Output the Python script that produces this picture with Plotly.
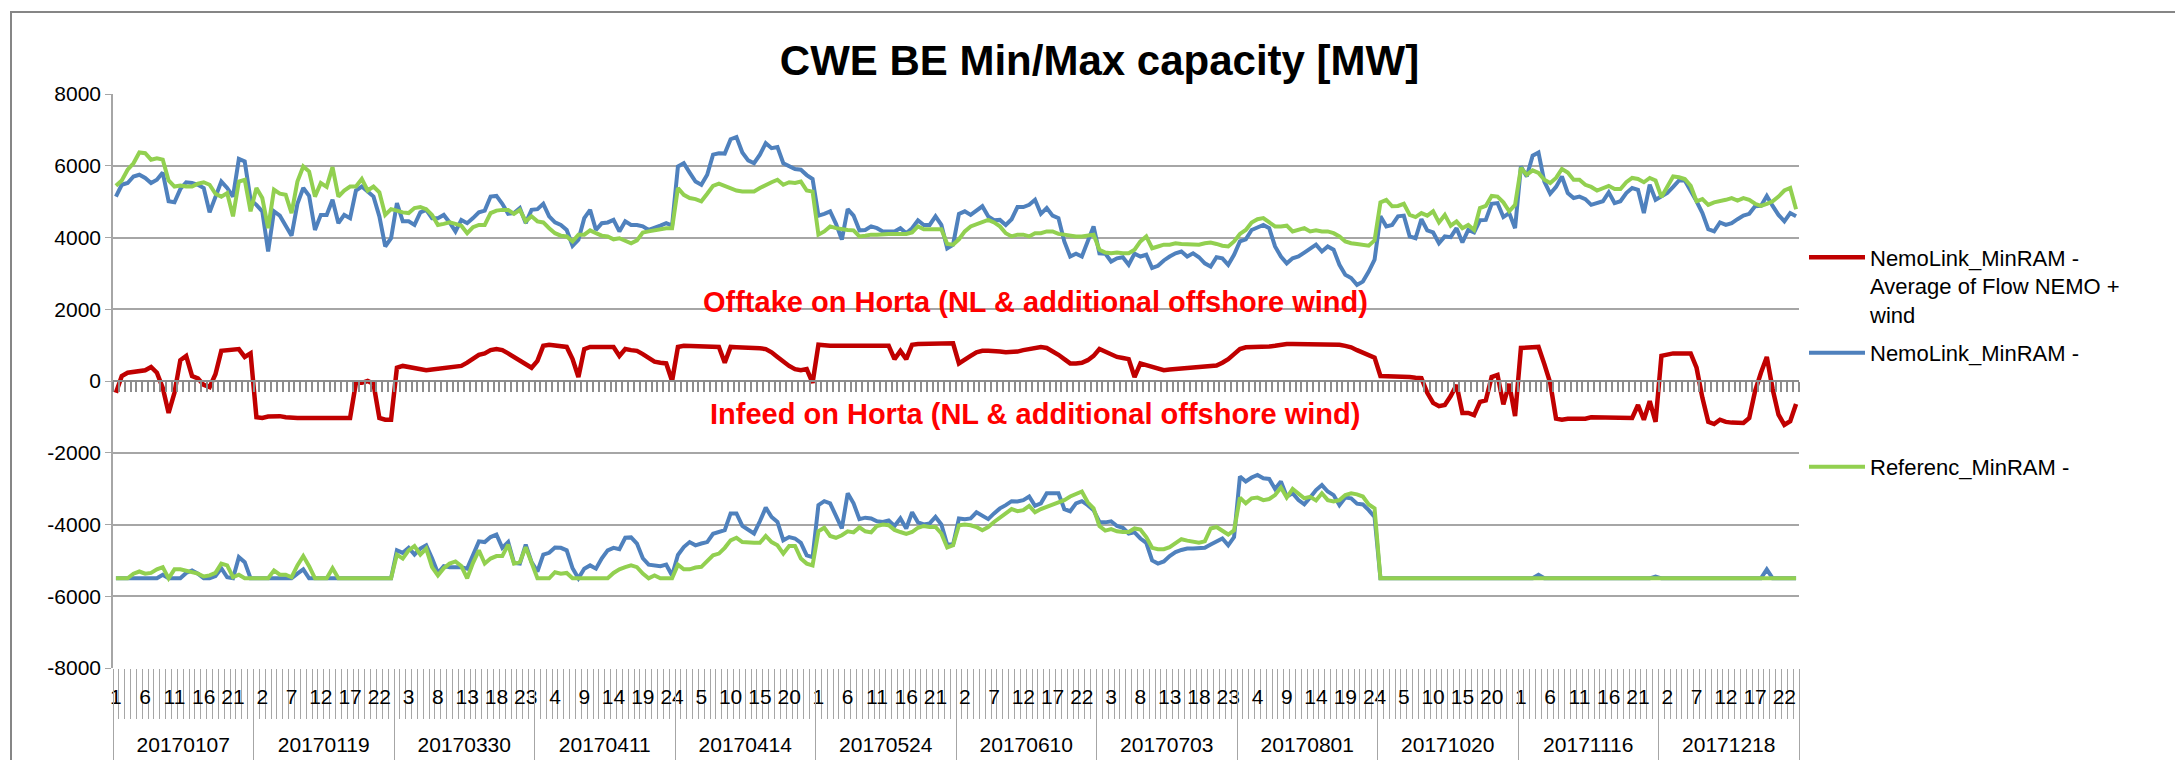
import plotly.graph_objects as go

# ---------------- data ----------------
DATES = ["20170107", "20170119", "20170330", "20170411", "20170414", "20170524",
         "20170610", "20170703", "20170801", "20171020", "20171116", "20171218"]
HOURS = [1, 2, 3, 4, 5, 6, 7, 8, 9, 10, 11, 12, 13, 14, 15, 16, 17, 18, 19, 20, 21, 22, 23, 24]

Y_TICKS = [8000, 6000, 4000, 2000, 0, -2000, -4000, -6000, -8000]

BLUE_MAX = [
    5140, 5470, 5520, 5700, 5750, 5660, 5520, 5610, 5810, 5010, 4980, 5350, 5540, 5520, 5470, 5380, 4700, 5100, 5560, 5380, 5140, 6190, 6120, 5050,
    4910, 4730, 3610, 4730, 4610, 4330, 4050, 4940, 5380, 5160, 4210, 4630, 4630, 5050, 4400, 4630, 4540, 5310, 5420, 5280, 5140, 4590, 3750, 3980,
    4960, 4450, 4450, 4350, 4700, 4770, 4540, 4540, 4630, 4420, 4170, 4490, 4400, 4540, 4700, 4750, 5140, 5160, 4940, 4660, 4680, 4820, 4400, 4770,
    4790, 4940, 4590, 4420, 4350, 4210, 3770, 3940, 4540, 4770, 4210, 4400, 4420, 4490, 4170, 4450, 4350, 4350, 4310, 4210, 4260, 4330, 4400, 4330,
    5980, 6070, 5810, 5560, 5470, 5750, 6310, 6350, 6340, 6740, 6800, 6370, 6150, 6070, 6310, 6630, 6490, 6520, 6070, 6000, 5910, 5890, 5740, 5630,
    4610, 4660, 4730, 4380, 3940, 4790, 4610, 4200, 4210, 4310, 4260, 4170, 4170, 4170, 4260, 4120, 4260, 4480, 4350, 4350, 4590, 4350, 3700, 3800,
    4660, 4730, 4630, 4750, 4870, 4590, 4480, 4490, 4350, 4510, 4850, 4850, 4910, 5050, 4660, 4820, 4610, 4540, 3890, 3470, 3550, 3470, 3890, 4310,
    3560, 3550, 3330, 3420, 3450, 3240, 3550, 3470, 3520, 3150, 3210, 3360, 3470, 3560, 3610, 3470, 3560, 3450, 3280, 3190, 3450, 3420, 3240, 3520,
    3890, 3950, 4210, 4280, 4350, 4260, 3750, 3470, 3280, 3420, 3470, 3580, 3700, 3800, 3610, 3750, 3660, 3240, 2960, 2870, 2680, 2770, 3050, 3380,
    4590, 4310, 4350, 4590, 4610, 4030, 3980, 4510, 4200, 4140, 3840, 4030, 4010, 4260, 3860, 4210, 4140, 4480, 4490, 4940, 4960, 4570, 4680, 4260,
    5980, 5700, 6280, 6370, 5560, 5220, 5410, 5700, 5240, 5100, 5140, 5070, 4910, 4960, 5010, 5260, 4960, 5010, 5240, 5380, 5330, 4680, 5470, 5050,
    5160, 5240, 5410, 5590, 5590, 5310, 5010, 4680, 4230, 4170, 4420, 4350, 4400, 4510, 4610, 4660, 4870, 4880, 5160, 4880, 4630, 4450, 4680, 4590,
]

GREEN_MAX = [
    5440, 5590, 5890, 6070, 6370, 6350, 6170, 6210, 6170, 5590, 5420, 5450, 5420, 5420, 5500, 5540, 5470, 5220, 5140, 5240, 4590, 5560, 5610, 4730,
    5380, 5100, 4260, 5330, 5220, 5190, 4680, 5560, 5980, 5840, 5140, 5520, 5410, 5960, 5140, 5310, 5420, 5420, 5630, 5310, 5420, 5260, 4630, 4790,
    4750, 4700, 4680, 4820, 4850, 4790, 4630, 4350, 4380, 4420, 4380, 4330, 4120, 4290, 4350, 4350, 4680, 4750, 4770, 4770, 4660, 4770, 4450, 4590,
    4450, 4420, 4260, 4120, 4050, 4030, 3890, 4080, 4080, 4200, 4120, 4050, 4030, 3950, 3980, 3920, 3840, 3920, 4140, 4170, 4200, 4210, 4260, 4260,
    5380, 5190, 5100, 5070, 5010, 5220, 5440, 5500, 5440, 5380, 5310, 5280, 5280, 5280, 5380, 5470, 5540, 5610, 5470, 5540, 5520, 5560, 5310, 5280,
    4080, 4170, 4310, 4260, 4230, 4210, 4200, 4030, 4050, 4080, 4080, 4100, 4100, 4100, 4100, 4100, 4140, 4310, 4230, 4230, 4230, 4230, 3820, 3800,
    3950, 4170, 4310, 4380, 4420, 4490, 4420, 4310, 4120, 4030, 4080, 4080, 4030, 4120, 4120, 4170, 4170, 4100, 4080, 4050, 4030, 4030, 4050, 4080,
    3660, 3580, 3560, 3580, 3560, 3560, 3660, 3890, 4030, 3700, 3750, 3800, 3800, 3840, 3820, 3820, 3800, 3800, 3840, 3860, 3820, 3770, 3750, 3890,
    4100, 4210, 4420, 4510, 4540, 4420, 4310, 4310, 4330, 4170, 4210, 4260, 4170, 4200, 4170, 4170, 4120, 4030, 3890, 3840, 3820, 3800, 3770, 3920,
    4980, 5050, 4870, 4880, 4940, 4630, 4570, 4680, 4610, 4730, 4420, 4630, 4330, 4450, 4260, 4350, 4210, 4820, 4880, 5160, 5140, 4980, 4730, 4910,
    5940, 5750, 5870, 5800, 5610, 5520, 5660, 5910, 5810, 5610, 5610, 5470, 5410, 5310, 5380, 5440, 5350, 5350, 5540, 5660, 5630, 5540, 5660, 5590,
    5130, 5420, 5700, 5680, 5630, 5440, 5010, 5070, 4910, 4980, 5010, 5050, 5100, 5030, 5100, 5050, 4940, 4880, 4940, 5010, 5140, 5310, 5380, 4790,
]

RED_FLOW = [
    -330, 140, 230, 260, 260, 300, 390, 230, -190, -890, -330, 580, 700, 140, 70, -110, -170, 190, 840, 860, 890, 890, 670, 770,
    -1010, -1030, -990, -980, -980, -1010, -1030, -1030, -1030, -1030, -1030, -1030, -1030, -1030, -1030, -1030, -1030, -50, -50, 0, -80, -1030, -1080, -1080,
    370, 420, 390, 340, 300, 300, 320, 340, 360, 370, 390, 420, 510, 610, 730, 770, 860, 890, 860, 770, 670, 560, 470, 370,
    560, 980, 1010, 1000, 980, 950, 610, 110, 890, 950, 950, 950, 950, 950, 700, 890, 860, 840, 750, 650, 540, 510, 490, 0,
    950, 980, 980, 980, 980, 980, 960, 950, 510, 950, 940, 940, 930, 920, 910, 890, 800, 670, 540, 420, 330, 300, 330, -50,
    1010, 980, 980, 980, 980, 980, 980, 980, 980, 980, 980, 1010, 980, 610, 840, 610, 1010, 1030, 1030, 1050, 1050, 1050, 1050, 1050,
    490, 610, 700, 800, 840, 840, 840, 820, 800, 800, 820, 860, 890, 920, 950, 920, 840, 730, 610, 490, 490, 510, 580, 700,
    890, 810, 750, 670, 640, 610, 110, 490, 440, 390, 330, 300, 320, 330, 350, 370, 370, 390, 390, 410, 430, 510, 610, 750,
    890, 940, 940, 940, 950, 960, 980, 1010, 1030, 1030, 1030, 1030, 1030, 1030, 1030, 1030, 1030, 1010, 980, 940, 860, 800, 730, 650,
    140, 140, 110, 110, 110, 110, 90, 80, -330, -610, -700, -670, -420, -110, -890, -890, -950, -580, -540, 110, 170, -650, -80, -980,
    920, 920, 940, 950, 470, -50, -1050, -1080, -1050, -1050, -1050, -1050, -1010, -1010, -1010, -1010, -1010, -1010, -1010, -1030, -670, -1080, -560, -1140,
    700, 750, 770, 770, 770, 770, 370, -470, -1140, -1200, -1080, -1140, -1160, -1170, -1170, -1030, -280, 230, 670, -230, -940, -1220, -1120, -640,
]

BLUE_MIN = [
    -5500, -5500, -5500, -5500, -5500, -5500, -5500, -5500, -5400, -5500, -5500, -5500, -5350, -5280, -5370, -5500, -5500, -5440, -5220, -5470, -5500, -4910, -5050, -5500,
    -5500, -5500, -5500, -5500, -5500, -5500, -5500, -5370, -5250, -5500, -5500, -5500, -5500, -5500, -5500, -5500, -5500, -5500, -5500, -5500, -5500, -5500, -5500, -5500,
    -4720, -4790, -4650, -4840, -4670, -4580, -4940, -5350, -5160, -5190, -5190, -5190, -5230, -4840, -4470, -4490, -4350, -4280, -4650, -4490, -5070, -5090, -4560, -5050,
    -5310, -4840, -4790, -4640, -4650, -4720, -5220, -5500, -5230, -5140, -5230, -4940, -4720, -4650, -4690, -4370, -4360, -4530, -4940, -5120, -5140, -5160, -5120, -5420,
    -4850, -4630, -4490, -4580, -4530, -4490, -4260, -4220, -4160, -3690, -3690, -4040, -4160, -4250, -3910, -3530, -3790, -3930, -4440, -4350, -4390, -4510, -4860, -4910,
    -3460, -3350, -3410, -3740, -4110, -3130, -3410, -3850, -3810, -3830, -3910, -3930, -3890, -4040, -3830, -4110, -3660, -3940, -4000, -3970, -3790, -4000, -4560, -4560,
    -3830, -3850, -3830, -3660, -3740, -3850, -3690, -3550, -3460, -3350, -3360, -3320, -3220, -3480, -3410, -3130, -3130, -3130, -3570, -3630, -3410, -3350, -3460, -3600,
    -3930, -3940, -3910, -4040, -4090, -4250, -4220, -4390, -4510, -5000, -5090, -5030, -4880, -4770, -4710, -4670, -4670, -4670, -4650, -4560, -4470, -4390, -4580, -4350,
    -2660, -2800, -2690, -2620, -2710, -2730, -3010, -2800, -3220, -3130, -3320, -3440, -3250, -3040, -2900, -3080, -3180, -3460, -3250, -3270, -3420, -3440, -3600, -3790,
    -5500, -5500, -5500, -5500, -5500, -5500, -5500, -5500, -5500, -5500, -5500, -5500, -5500, -5500, -5500, -5500, -5500, -5500, -5500, -5500, -5500, -5500, -5500, -5500,
    -5500, -5500, -5500, -5400, -5500, -5500, -5500, -5500, -5500, -5500, -5500, -5500, -5500, -5500, -5500, -5500, -5500, -5500, -5500, -5500, -5500, -5500, -5500, -5450,
    -5500, -5500, -5500, -5500, -5500, -5500, -5500, -5500, -5500, -5500, -5500, -5500, -5500, -5500, -5500, -5500, -5500, -5500, -5250, -5500, -5500, -5500, -5500, -5500,
]

GREEN_MIN = [
    -5500, -5500, -5500, -5370, -5310, -5370, -5350, -5250, -5190, -5500, -5250, -5250, -5290, -5330, -5370, -5450, -5420, -5350, -5090, -5140, -5470, -5400, -5500, -5500,
    -5500, -5500, -5500, -5280, -5400, -5400, -5470, -5140, -4880, -5160, -5500, -5500, -5500, -5220, -5500, -5500, -5500, -5500, -5500, -5500, -5500, -5500, -5500, -5500,
    -4840, -4950, -4720, -4600, -4840, -4670, -5190, -5420, -5220, -5090, -5030, -5160, -5500, -5070, -4720, -5090, -4950, -4880, -4880, -4560, -5090, -5050, -4630, -5090,
    -5500, -5500, -5500, -5330, -5370, -5350, -5500, -5500, -5500, -5500, -5500, -5500, -5500, -5350, -5250, -5190, -5140, -5190, -5370, -5500, -5420, -5500, -5500, -5500,
    -5120, -5250, -5250, -5200, -5180, -5030, -4860, -4810, -4650, -4440, -4370, -4490, -4510, -4510, -4510, -4320, -4490, -4580, -4810, -4600, -4600, -4950, -5090, -5140,
    -4190, -4090, -4320, -4370, -4300, -4190, -4220, -4080, -4190, -4220, -4040, -4000, -4020, -4150, -4210, -4260, -4210, -4090, -4040, -4070, -4070, -4250, -4640, -4580,
    -4020, -4000, -4020, -4070, -4160, -4070, -3930, -3810, -3660, -3570, -3630, -3600, -3480, -3660, -3570, -3510, -3440, -3380, -3320, -3220, -3160, -3080, -3380, -3550,
    -4040, -4170, -4130, -4190, -4210, -4210, -4110, -4140, -4350, -4650, -4690, -4690, -4630, -4530, -4410, -4450, -4490, -4510, -4470, -4110, -4070, -4170, -4280, -4160,
    -3250, -3410, -3270, -3250, -3320, -3290, -3180, -2970, -3250, -3010, -3130, -3270, -3230, -3330, -3130, -3320, -3360, -3320, -3180, -3130, -3160, -3220, -3440, -3550,
    -5500, -5500, -5500, -5500, -5500, -5500, -5500, -5500, -5500, -5500, -5500, -5500, -5500, -5500, -5500, -5500, -5500, -5500, -5500, -5500, -5500, -5500, -5500, -5500,
    -5500, -5500, -5500, -5500, -5500, -5500, -5500, -5500, -5500, -5500, -5500, -5500, -5500, -5500, -5500, -5500, -5500, -5500, -5500, -5500, -5500, -5500, -5500, -5500,
    -5500, -5500, -5500, -5500, -5500, -5500, -5500, -5500, -5500, -5500, -5500, -5500, -5500, -5500, -5500, -5500, -5500, -5500, -5500, -5500, -5500, -5500, -5500, -5500,
]

NAME_RED = "NemoLink_MinRAM -<br>Average of Flow NEMO +<br>wind"
NAME_BLUE = "NemoLink_MinRAM -"
NAME_GREEN = "Referenc_MinRAM -"
TEXT_OFFTAKE = "<b>Offtake on Horta (NL &amp; additional offshore wind)</b>"
TEXT_INFEED = "<b>Infeed on Horta (NL &amp; additional offshore wind)</b>"
TITLE = "<b>CWE BE Min/Max capacity [MW]</b>"

# ---------------- derived axis helpers ----------------
N_H = len(HOURS)
N = len(DATES) * N_H
X = list(range(N))                       # category index along the two-level axis
HOUR_TICKVALS = X[::5]
HOUR_TICKTEXT = [str(HOURS[i % N_H]) for i in HOUR_TICKVALS]
BOUNDARIES = [i - 0.5 for i in X] + [N - 0.5]
DAY_CENTERS = [d * N_H + (N_H - 1) / 2 for d in range(len(DATES))]
XR = [-0.5, N - 0.5]

BLUE = "#4F81BD"
GREEN = "#92D050"
RED = "#C00000"
GRID = "#A6A6A6"
TICKC = "#8C8C8C"
FONT = "Liberation Sans, Arial, sans-serif"

W, H = 2183, 760
ML, MR, MT, MB = 105, 392, 86, 100
PW, PH = W - ML - MR, H - MT - MB


def px(xpix):
    return (xpix - ML) / PW


def py(ypix):
    return (H - MB - ypix) / PH


fig = go.Figure()
fig.add_trace(go.Scatter(x=X, y=BLUE_MAX, mode="lines", name=NAME_BLUE,
                         line=dict(color=BLUE, width=4), legend="legend2", legendgroup="blue"))
fig.add_trace(go.Scatter(x=X, y=BLUE_MIN, mode="lines", name=NAME_BLUE, showlegend=False,
                         line=dict(color=BLUE, width=4), legend="legend2", legendgroup="blue"))
fig.add_trace(go.Scatter(x=X, y=GREEN_MAX, mode="lines", name=NAME_GREEN,
                         line=dict(color=GREEN, width=4), legend="legend3", legendgroup="green"))
# red flow drawn on the axis that crosses at zero (same range as the main axis)
fig.add_trace(go.Scatter(x=X, y=RED_FLOW, mode="lines", name=NAME_RED, xaxis="x2",
                         line=dict(color=RED, width=4.5), legend="legend", legendgroup="red"))
# green min drawn on the date-level axis (same range as the main axis)
fig.add_trace(go.Scatter(x=X, y=GREEN_MIN, mode="lines", name=NAME_GREEN, showlegend=False, xaxis="x3",
                         line=dict(color=GREEN, width=4), legend="legend3", legendgroup="green"))

legend_common = dict(x=px(1796), xanchor="left", yanchor="middle", valign="top",
                     itemwidth=56,
                     font=dict(family=FONT, size=22, color="#000000"),
                     bgcolor="rgba(0,0,0,0)", borderwidth=0)

fig.update_layout(
    width=W, height=H,
    showlegend=True,
    margin=dict(l=ML, r=MR, t=MT, b=MB),
    paper_bgcolor="white", plot_bgcolor="white",
    font=dict(family=FONT, size=21, color="#000000"),
    title=dict(text=TITLE, x=0.5, xref="container", xanchor="center",
               y=1 - 52 / H, yref="container", yanchor="middle",
               font=dict(family=FONT, size=42, color="#000000")),
    xaxis=dict(range=XR, showgrid=False, zeroline=False, showline=False,
               tickmode="array", tickvals=HOUR_TICKVALS, ticktext=HOUR_TICKTEXT,
               ticks="", tickangle=0, ticklabelstandoff=14,
               tickfont=dict(family=FONT, size=21, color="#000000"),
               minor=dict(ticks="outside", tick0=-0.5, dtick=1, ticklen=50,
                          tickcolor=GRID, tickwidth=1, showgrid=False)),
    xaxis2=dict(overlaying="x", anchor="free", position=0.5, range=XR,
                showgrid=False, zeroline=False, showline=True, linecolor=TICKC, linewidth=1.5,
                ticks="outside", tickmode="array", tickvals=BOUNDARIES, ticklen=10,
                tickcolor=TICKC, tickwidth=1.5, showticklabels=False),
    xaxis3=dict(overlaying="x", anchor="y", side="bottom", range=XR,
                showgrid=False, zeroline=False, showline=False,
                tickmode="array", tickvals=DAY_CENTERS, ticktext=DATES, ticks="",
                tickangle=0, ticklabelstandoff=62,
                tickfont=dict(family=FONT, size=21, color="#000000"),
                minor=dict(ticks="outside", tick0=-0.5, dtick=N_H, ticklen=110,
                           tickcolor=GRID, tickwidth=1, showgrid=False)),
    yaxis=dict(range=[-8000, 8000], tickmode="array", tickvals=Y_TICKS,
               ticktext=[str(v) for v in Y_TICKS],
               showgrid=True, gridcolor=GRID, gridwidth=1.5, zeroline=False,
               showline=True, linecolor=GRID, linewidth=1.5,
               ticks="outside", ticklen=6, tickcolor=GRID,
               tickfont=dict(family=FONT, size=21, color="#000000")),
    legend=dict(y=py(278), **legend_common),
    legend2=dict(y=py(345), **legend_common),
    legend3=dict(y=py(459), **legend_common),
    annotations=[
        dict(text=TEXT_OFFTAKE, x=px(1027), y=py(294), xref="paper", yref="paper",
             showarrow=False, font=dict(family=FONT, size=29, color="#FF0000")),
        dict(text=TEXT_INFEED, x=px(1027), y=py(406), xref="paper", yref="paper",
             showarrow=False, font=dict(family=FONT, size=29, color="#FF0000")),
    ],
    shapes=[
        dict(type="rect", xref="paper", yref="paper",
             x0=px(3), x1=px(2180), y0=py(780), y1=py(4),
             line=dict(color="#868686", width=2), fillcolor="rgba(0,0,0,0)", layer="below"),
    ],
)

fig.write_html("out.html")
